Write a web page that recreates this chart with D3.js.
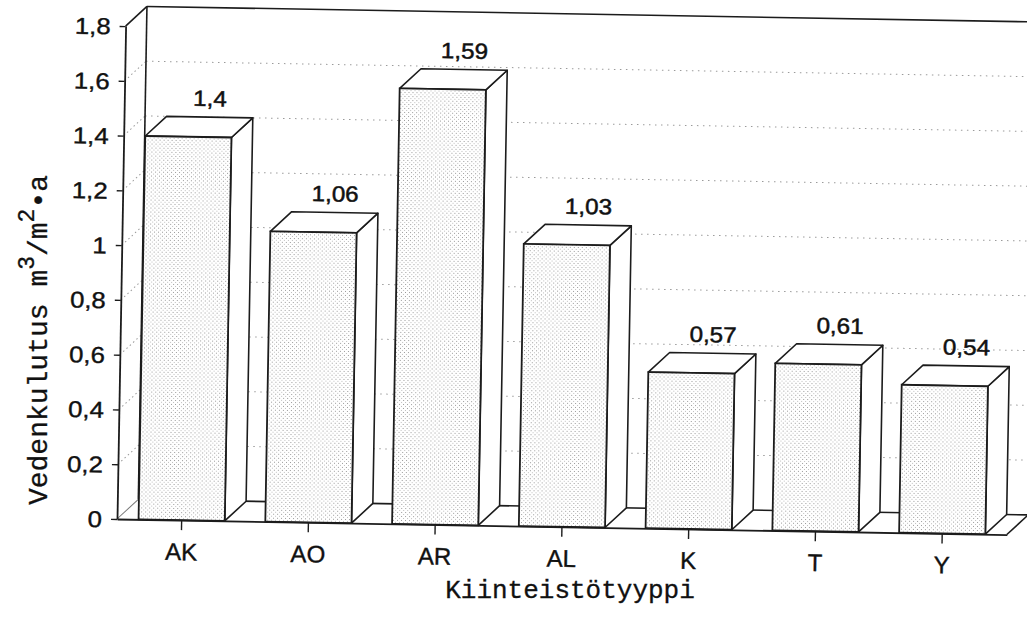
<!DOCTYPE html>
<html>
<head>
<meta charset="utf-8">
<script src="https://cdn.jsdelivr.net/npm/d3@7"></script>
<style>
  body { margin: 0; background: #fff; }
  svg { display: block; }
</style>
</head>
<body>
<svg id="chart" width="1027" height="621"></svg>
<script>
// Water consumption per property type (m3 / m2 per year)
const categories = ["AK", "AO", "AR", "AL", "K", "T", "Y"];
const values = [1.4, 1.06, 1.59, 1.03, 0.57, 0.61, 0.54];
const yTickValues = [0, 0.2, 0.4, 0.6, 0.8, 1, 1.2, 1.4, 1.6, 1.8];
const yDomain = [0, 1.8];
const xTitle = "Kiinteistötyyppi";

// Finnish number style: decimal comma
const fi = d3.formatLocale({ decimal: ",", thousands: "\u00a0", grouping: [3], currency: ["", " €"] });
const fmt = fi.format("~g");

const ox = 117, oy = 519;          // front bottom-left corner of the plot
const plotW = 890, plotH = 493;    // front plane size
const depth = { x: 21, y: -20 };   // 3D depth offset
const tilt = 1.0;                  // slight clockwise tilt of the whole plot

const sans = "'Liberation Sans', Arial, Helvetica, sans-serif";
const mono = "'Courier New', Courier, 'Liberation Mono', monospace";
const ink = "#1c1c1c";

const svg = d3.select("#chart");

// stipple fill for the bar fronts
const defs = svg.append("defs");
const pat = defs.append("pattern").attr("id", "stipple")
  .attr("patternUnits", "userSpaceOnUse").attr("width", 4).attr("height", 4);
pat.append("rect").attr("width", 4).attr("height", 4).attr("fill", "#fff");
pat.append("rect").attr("x", 0).attr("y", 0).attr("width", 1).attr("height", 1).attr("fill", "#9a9a9a");
pat.append("rect").attr("x", 2).attr("y", 2).attr("width", 1).attr("height", 1).attr("fill", "#bdbdbd");

const g = svg.append("g")
  .attr("transform", `rotate(${tilt},${ox},${oy}) translate(${ox},${oy})`);

const x = d3.scaleBand().domain(categories).range([0, plotW])
  .paddingInner(0.32).paddingOuter(0.17);
const y = d3.scaleLinear().domain(yDomain).range([0, -plotH]);

const yTop = y(yDomain[1]);
const dx = depth.x, dy = depth.y;

// back wall
g.append("rect").attr("x", dx).attr("y", yTop + dy).attr("width", plotW).attr("height", -yTop)
  .attr("fill", "#fff");

// gridlines: back wall
const gridVals = yTickValues.filter(v => v > yDomain[0] && v < yDomain[1]);
g.append("g").selectAll("line").data(gridVals).join("line")
  .attr("x1", dx).attr("x2", dx + plotW)
  .attr("y1", d => y(d) + dy).attr("y2", d => y(d) + dy)
  .attr("stroke", "#9a9a9a").attr("stroke-width", 1).attr("stroke-dasharray", "1.5,4.5");
// gridlines: left wall
g.append("g").selectAll("line").data(gridVals).join("line")
  .attr("x1", 0).attr("x2", dx)
  .attr("y1", d => y(d)).attr("y2", d => y(d) + dy)
  .attr("stroke", "#9a9a9a").attr("stroke-width", 1).attr("stroke-dasharray", "1.5,3");

// frame edges
const edge = (x1, y1, x2, y2, w = 1.6, c = ink) =>
  g.append("line").attr("x1", x1).attr("y1", y1).attr("x2", x2).attr("y2", y2)
    .attr("stroke", c).attr("stroke-width", w);
edge(dx, dy, dx, yTop + dy);                      // back wall left edge
edge(dx, yTop + dy, dx + plotW, yTop + dy);       // back wall top edge
edge(dx + plotW, dy, dx + plotW, yTop + dy);      // back wall right edge
edge(0, yTop, dx, yTop + dy);                     // left wall top
edge(dx, dy, dx + plotW, dy);                     // floor back edge
edge(0, 0, dx, dy, 1, "#777");                    // floor left edge
edge(plotW, 0, plotW + dx, dy);                   // floor right edge

// bars
const bars = g.append("g").selectAll("g").data(categories.map((c, i) => ({ c, v: values[i] })))
  .join("g");
const bw = x.bandwidth();
bars.append("polygon")   // side face
  .attr("points", d => {
    const x0 = x(d.c), t = y(d.v);
    return [[x0 + bw, 0], [x0 + bw + dx, dy], [x0 + bw + dx, t + dy], [x0 + bw, t]].join(" ");
  })
  .attr("fill", "#fff").attr("stroke", ink).attr("stroke-width", 1.6).attr("stroke-linejoin", "round");
bars.append("polygon")   // top face
  .attr("points", d => {
    const x0 = x(d.c), t = y(d.v);
    return [[x0, t], [x0 + dx, t + dy], [x0 + bw + dx, t + dy], [x0 + bw, t]].join(" ");
  })
  .attr("fill", "#fff").attr("stroke", ink).attr("stroke-width", 1.6).attr("stroke-linejoin", "round");
bars.append("rect")      // front face
  .attr("x", d => x(d.c)).attr("y", d => y(d.v))
  .attr("width", bw).attr("height", d => -y(d.v))
  .attr("fill", "url(#stipple)").attr("stroke", ink).attr("stroke-width", 1.8);
bars.append("text")      // value label
  .attr("transform", d => `translate(${x(d.c) + bw / 2 + dx},${y(d.v) + dy - 11}) scale(1.1,1)`)
  .attr("text-anchor", "middle")
  .attr("font-family", sans).attr("font-size", 22).attr("fill", "#111")
  .attr("stroke", "#111").attr("stroke-width", 0.5)
  .text(d => fmt(d.v));

// y axis
const yAxis = g.append("g")
  .call(d3.axisLeft(y).tickValues(yTickValues).tickFormat(fmt).tickSize(6).tickPadding(11).tickSizeOuter(0));
yAxis.select(".domain").attr("stroke", ink).attr("stroke-width", 1.8);
yAxis.selectAll(".tick line").attr("stroke", ink).attr("stroke-width", 1.4);
yAxis.selectAll(".tick text")
  .attr("x", null).attr("dy", "0.35em")
  .attr("transform", "translate(-15,0) scale(1.12,1)")
  .attr("font-family", sans).attr("font-size", 23).attr("fill", "#111")
  .attr("stroke", "#111").attr("stroke-width", 0.4);

// x axis (its domain is the floor front edge)
const xAxis = g.append("g")
  .call(d3.axisBottom(x).tickSize(10).tickPadding(13).tickSizeOuter(0));
xAxis.select(".domain").attr("stroke", ink).attr("stroke-width", 1.8);
xAxis.selectAll(".tick line").attr("stroke", ink).attr("stroke-width", 1.4);
xAxis.selectAll(".tick text")
  .attr("font-family", sans).attr("font-size", 24).attr("fill", "#111")
  .attr("stroke", "#111").attr("stroke-width", 0.4);

// axis titles
svg.append("text")
  .attr("x", 570).attr("y", 598).attr("text-anchor", "middle")
  .attr("font-family", mono).attr("font-size", 26).attr("fill", "#111")
  .attr("stroke", "#111").attr("stroke-width", 0.3)
  .text(xTitle);

const yt = svg.append("text")
  .attr("transform", "translate(47,340) rotate(-90)")
  .attr("text-anchor", "middle")
  .attr("font-family", mono).attr("font-size", 28).attr("fill", "#111")
  .attr("stroke", "#111").attr("stroke-width", 0.3);
yt.append("tspan").text("Vedenkulutus m");
yt.append("tspan").attr("dy", -13).attr("font-size", 23).text("3");
yt.append("tspan").attr("dy", 13).text("/m");
yt.append("tspan").attr("dy", -13).attr("font-size", 23).text("2");
yt.append("tspan").attr("dy", 13).text("\u2022a");
</script>
</body>
</html>
